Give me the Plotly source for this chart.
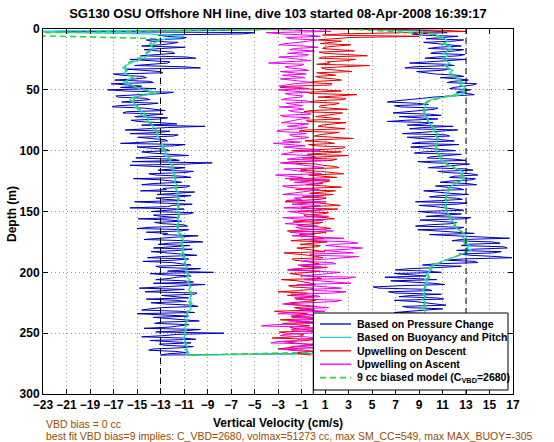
import plotly.graph_objects as go

TITLE = "SG130 OSU Offshore NH line, dive 103 started 08-Apr-2008 16:39:17"
X_TICKS = [-23, -21, -19, -17, -15, -13, -11, -9, -7, -5, -3, -1, 1, 3, 5, 7, 9, 11, 13, 15, 17]
Y_TICKS = [0, 50, 100, 150, 200, 250, 300]

# sampling depths (m)
depth_desc = list(range(0, 269))         # 0..268, 1 m
depth_asc = list(range(0, 267))          # 0..266, 1 m
depth_desc_smooth = list(range(0, 270, 2))  # 0..268, 2 m
depth_asc_smooth = list(range(0, 268, 2))   # 0..266, 2 m
depth_desc_model = list(range(0, 272, 4))   # 0..268
depth_asc_model = list(range(0, 268, 4))    # 0..264

# Descent: vertical velocity from pressure change (cm/s), even metres then odd metres
press_desc_even = [
    -2, -22, -6, -12.5, -11.2, -13.8, -12.1, -14.6, -12.9, -13.3,
    -11.8, -14.7, -10.0, -13.9, -12.4, -15.2, -9.6, -14.1, -12.8, -16.3,
    -14.2, -16.9, -13.6, -15.8, -16.4, -17.5, -11.9, -14.8, -16.6, -13.9,
    -16.3, -14.2, -17.1, -13.5, -15.9, -12.8, -15.2, -13.1, -14.9, -11.6,
    -9.2, -14.8, -12.2, -15.6, -11.9, -13.8, -12.4, -16.4, -11.8, -14.0,
    -12.2, -13.7, -10.6, -15.1, -11.4, -8.6, -15.6, -10.9, -13.2, -11.0,
    -13.4, -10.4, -12.9, -11.2, -14.6, -10.8, -12.5, -10.1, -13.3, -11.5,
    -12.6, -15.2, -10.3, -12.4, -11.0, -13.8, -10.6, -12.9, -14.9, -11.2,
    -12.8, -10.7, -15.0, -11.3, -12.4, -9.8, -13.1, -11.0, -12.2, -10.5,
    -13.6, -11.4, -12.6, -9.9, -14.1, -11.8, -12.0, -10.4, -13.0, -11.2,
    -8.5, -12.7, -11.6, -13.4, -10.2, -9.2, -12.8, -11.0, -14.3, -10.1,
    -12.0, -14.2, -10.8, -12.6, -9.8, -13.9, -11.4, -15.0, -10.6, -12.2,
    -9.7, -13.5, -11.3, -14.4, -10.9, -7.6, -12.7, -11.1, -13.9, -10.4,
    -12.6, -11.2, -14.0, -10.8, -13.0,
]
press_desc_odd = [
    -7, -5, -13.2, -10.8, -14.2, -11.5, -13.0, -10.9, -14.4, -12.0,
    -13.2, -10.8, -15.6, -12.2, -13.8, -11.1, -15.9, -13.0, -17.0, -14.5,
    -15.1, -13.9, -17.2, -14.6, -13.4, -15.9, -12.7, -16.8, -14.3, -15.0,
    -13.2, -16.6, -14.4, -12.6, -16.2, -14.0, -12.4, -15.5, -13.0, -14.6,
    -12.4, -16.0, -13.1, -11.5, -14.9, -12.6, -14.7, -10.9, -15.0, -12.5,
    -14.6, -11.6, -13.8, -12.0, -15.4, -10.8, -13.5, -11.9, -10.2, -14.0,
    -11.1, -15.3, -12.0, -13.6, -10.5, -12.8, -14.7, -11.6, -10.4, -13.4,
    -10.9, -13.1, -12.0, -15.6, -12.4, -10.2, -13.6, -11.4, -12.2, -13.5,
    -11.0, -13.9, -10.6, -14.2, -12.8, -11.6, -14.4, -9.4, -13.2, -12.0,
    -10.3, -13.8, -11.4, -12.9, -10.6, -14.5, -11.2, -13.4, -9.6, -12.4,
    -13.9, -10.4, -12.2, -11.0, -13.6, -10.8, -14.8, -12.4, -9.9, -12.9,
    -10.6, -11.6, -13.8, -10.4, -12.8, -14.6, -10.1, -12.5, -13.6, -11.1,
    -13.0, -10.6, -12.2, -9.6, -13.4, -11.6, -14.6, -10.0, -12.0, -13.1,
    -10.2, -13.6, -11.7, -12.4,
]
# Descent: from buoyancy and pitch (2 m)
buoy_desc = [
    -2, -27, -14, -11, -12.5, -13.2, -13.6, -13.8, -13.5, -13.9,
    -14.2, -14.0, -14.5, -15.0, -15.6, -16.0, -16.2, -15.8, -16.1, -15.7,
    -15.3, -15.8, -16.2, -15.5, -15.1, -14.6, -13.2, -14.0, -15.3, -15.6,
    -15.4, -15.1, -15.2, -14.8, -14.6, -14.7, -14.3, -14.0, -14.2, -13.8,
    -13.6, -13.7, -13.4, -13.2, -13.3, -13.0, -13.1, -12.9, -12.8, -12.9,
    -12.7, -12.5, -12.6, -12.3, -12.2, -12.3, -12.0, -12.1, -11.9, -12.0,
    -11.8, -11.9, -11.7, -11.8, -11.6, -11.8, -11.7, -11.5, -11.7, -11.6,
    -11.4, -11.6, -11.5, -11.4, -11.6, -11.5, -11.3, -11.5, -11.6, -11.4,
    -11.5, -11.7, -11.5, -11.6, -11.4, -11.5, -11.2, -11.0, -11.3, -11.1,
    -11.0, -11.2, -11.1, -11.3, -11.0, -10.8, -11.0, -10.9, -10.7, -10.9,
    -10.8, -10.6, -10.8, -10.5, -10.7, -10.6, -10.4, -10.6, -10.5, -10.3,
    -10.5, -10.4, -10.6, -10.3, -10.5, -10.4, -10.6, -10.8, -10.6, -10.9,
    -10.7, -10.9, -10.8, -11.0, -10.8, -11.0, -10.9, -11.1, -10.9, -11.0,
    -10.8, -10.7, -10.9, -10.6, -10.8,
]
# Descent: 9 cc biased model (4 m)
model_desc = [
    -1, -30, -13.0, -13.9, -13.7, -14.3, -14.8, -15.8, -16.0, -15.9,
    -15.4, -15.9, -15.0, -13.6, -15.2, -15.3, -15.0, -14.5, -14.2, -14.0,
    -13.6, -13.3, -13.1, -13.0, -12.8, -12.6, -12.4, -12.1, -12.0, -11.9,
    -11.8, -11.7, -11.6, -11.6, -11.6, -11.5, -11.5, -11.5, -11.4, -11.5,
    -11.5, -11.5, -11.3, -11.1, -11.2, -11.1, -11.1, -10.9, -10.9, -10.8,
    -10.7, -10.6, -10.6, -10.5, -10.4, -10.4, -10.4, -10.6, -10.7, -10.8,
    -10.8, -10.9, -10.9, -10.9, -10.9, -10.8, -10.7, -10.7,
]
# Ascent (listed from surface downward)
press_asc_even = [
    6, 10.8, 8.4, 12.3, 9.6, 11.9, 10.2, 12.6, 9.8, 12.1,
    10.0, 12.4, 9.5, 11.8, 8.2, 12.0, 7.8, 10.9, 9.3, 12.3,
    10.8, 13.2, 11.4, 13.6, 12.0, 13.4, 12.2, 13.7, 10.2, 8.5,
    6.3, 9.8, 7.4, 10.3, 8.1, 9.9, 7.3, 10.6, 6.3, 9.5,
    11.9, 8.2, 10.8, 7.6, 11.6, 9.1, 12.0, 8.4, 11.2, 9.6,
    12.1, 8.6, 11.4, 9.7, 13.0, 10.2, 12.4, 9.8, 13.6, 11.4,
    14.0, 11.6, 13.5, 10.8, 13.9, 11.3, 12.8, 10.1, 13.2, 9.9,
    12.7, 8.7, 12.2, 10.4, 11.9, 8.9, 12.6, 9.6, 12.9, 10.3,
    11.8, 8.7, 12.4, 10.6, 13.7, 12.0, 16.7, 11.8, 15.9, 12.6,
    16.5, 12.2, 15.3, 13.4, 16.9, 11.2, 14.0, 9.3, 10.8, 7.0,
    10.9, 8.3, 6.1, 10.5, 7.9, 11.2, 5.1, 9.8, 6.4, 10.9,
    7.3, 11.1, 8.6, 10.4, 7.6, 11.0, 8.2, 9.9, 7.4, 10.8,
    8.1, 11.2, 7.7, 10.5, 8.8, 11.4, 7.9, 10.3, 8.5, 11.0,
    8.0, 10.6, 8.3, 8.6,
]
press_asc_odd = [
    9.0, 11.4, 9.2, 11.0, 12.8, 9.4, 11.5, 10.6, 12.8, 10.4,
    12.9, 10.6, 13.0, 9.9, 11.3, 8.6, 11.6, 8.8, 10.4, 12.8,
    12.4, 11.9, 13.9, 12.8, 11.6, 12.6, 13.2, 11.8, 9.3, 7.1,
    8.8, 6.9, 10.6, 8.6, 6.8, 10.9, 8.9, 7.9, 10.2, 8.0,
    9.3, 12.3, 9.0, 11.3, 8.0, 10.9, 9.2, 12.4, 8.3, 11.1,
    9.4, 12.6, 10.0, 12.0, 8.9, 13.3, 11.0, 12.9, 10.6, 13.4,
    12.0, 13.8, 11.6, 13.1, 10.4, 12.4, 9.4, 11.6, 10.8, 12.2,
    10.9, 13.1, 9.0, 11.4, 12.8, 10.0, 11.2, 13.4, 9.1, 12.2,
    9.8, 12.8, 8.9, 11.6, 9.9, 14.6, 12.6, 15.2, 13.1, 16.2,
    13.6, 16.0, 12.4, 15.6, 12.8, 13.8, 10.4, 12.6, 8.2, 9.6,
    6.9, 9.6, 8.8, 6.6, 10.2, 7.4, 5.6, 10.1, 7.0, 8.4,
    10.5, 6.9, 9.7, 11.3, 8.1, 10.0, 6.9, 10.7, 8.9, 7.8,
    10.6, 8.4, 9.9, 7.5, 10.8, 8.9, 11.1, 7.6, 9.8, 10.4,
    7.8, 9.9, 8.8,
]
buoy_asc = [
    4, 9.5, 10.2, 10.8, 11.2, 11.5, 11.0, 11.6, 11.9, 11.4,
    11.1, 11.5, 11.0, 11.3, 11.6, 11.2, 11.5, 11.9, 11.6, 11.8,
    12.2, 12.5, 12.7, 12.5, 12.9, 12.7, 13.0, 12.6, 11.2, 10.0,
    9.6, 9.4, 9.6, 9.3, 9.5, 9.4, 9.6, 9.8, 9.7, 10.0,
    10.1, 10.4, 10.2, 10.6, 10.4, 10.7, 10.5, 10.6, 10.4, 10.5,
    10.4, 10.6, 10.8, 10.7, 11.0, 11.1, 11.6, 12.1, 12.5, 12.8,
    12.6, 12.9, 12.7, 12.4, 11.9, 11.6, 11.4, 11.5, 11.3, 11.4,
    11.2, 11.4, 11.3, 11.1, 11.4, 11.3, 11.5, 11.7, 11.6, 11.9,
    12.1, 11.9, 12.3, 12.6, 12.9, 13.0, 12.7, 13.2, 12.8, 13.4,
    13.0, 13.5, 12.9, 12.4, 11.8, 11.3, 10.7, 10.2, 9.9, 10.1,
    9.8, 9.6, 9.9, 9.5, 9.7, 9.4, 9.6, 9.3, 9.5, 9.4,
    9.6, 9.3, 9.5, 9.4, 9.6, 9.3, 9.5, 9.4, 9.6, 9.5,
    9.3, 9.5, 9.4, 9.6, 9.4, 9.5, 9.3, 9.6, 9.4, 9.5,
    9.3, 9.2, 9.0, 8.5,
]
model_asc = [
    3, 10.0, 11.0, 11.2, 11.7, 11.2, 11.1, 11.5, 11.4, 11.7,
    12.1, 12.6, 12.8, 12.9, 11.0, 9.7, 9.5, 9.4, 9.6, 9.8,
    10.1, 10.3, 10.5, 10.6, 10.5, 10.5, 10.7, 11.0, 11.5, 12.4,
    12.7, 12.6, 11.9, 11.5, 11.3, 11.3, 11.3, 11.3, 11.5, 11.7,
    12.0, 12.2, 12.8, 12.8, 12.9, 13.1, 12.9, 11.9, 10.8, 10.0,
    9.8, 9.8, 9.6, 9.5, 9.4, 9.5, 9.4, 9.5, 9.4, 9.5,
    9.4, 9.4, 9.4, 9.4, 9.4, 9.3, 9.0,
]
# Upwelling (cm/s), even metres then odd metres
upwell_desc_even = [
    0.5, 13, 2.5, 9.0, 1.2, 2.4, 0.6, 2.0, 0.8, 3.5,
    1.0, 4.6, 0.5, 2.8, 1.4, 4.8, 0.7, 2.2, 0.3, 1.9,
    0.6, 2.4, -0.4, 1.5, -2.8, 0.9, -0.6, 3.7, 0.4, 2.6,
    -0.3, 1.8, 0.5, 2.9, -0.8, 1.6, 0.2, 2.3, -0.5, 1.9,
    0.4, 2.7, -1.2, 1.3, 0.1, 3.4, -0.7, 1.8, 0.3, 2.5,
    -1.8, 1.2, 3.0, -0.9, 1.6, -2.6, 0.8, 2.2, -1.1, 1.4,
    -0.4, 2.0, -2.0, 0.9, -0.6, 2.4, -1.5, 0.5, 1.7, -0.9,
    0.6, -2.4, 1.3, -0.3, 2.1, -1.3, 0.7, -0.6, 1.8, -1.7,
    0.2, -0.8, 1.5, -2.2, 0.4, -1.0, 0.9, -1.9, -0.2, 0.6,
    -1.4, 0.3, -2.5, -0.4, 0.8, -1.6, 0.1, -0.9, 1.2, -2.1,
    -0.3, -1.2, 0.4, -2.7, -0.6, 0.2, -1.8, -0.2, -3.0, -0.8,
    0.1, -1.5, -0.4, -2.4, 0.3, -1.1, -3.3, -0.5, -1.9, 0.2,
    -1.2, -2.6, -0.3, -1.7, 0.4, -2.2, -0.9, -3.5, -0.4, -1.4,
    0.2, -2.0, -0.7, -1.5, -0.2,
]
upwell_desc_odd = [
    11, 6.0, 0.8, 3.1, 0.4, 1.7, 3.2, 0.9, 2.6, 0.5,
    2.9, 0.8, 3.6, 1.2, 0.3, 2.6, 1.1, 3.3, 1.0, 0.2,
    1.8, 0.3, 1.6, -1.9, -0.9, 2.4, -0.2, 1.6, 2.8, 0.3,
    2.2, 0.6, 1.3, -0.2, 2.5, 0.9, 1.4, -0.6, 2.8, 0.7,
    1.6, -0.6, 2.2, 0.5, 2.0, 0.4, 1.2, -0.4, 2.7, 0.9,
    2.4, -0.5, 1.1, 2.0, -1.6, 0.3, 1.9, -0.4, 0.6, 2.6,
    0.7, -1.2, 1.4, 0.2, 1.0, -0.7, 1.9, -0.3, 0.2, 1.1,
    -1.3, 0.5, 2.3, -1.0, 0.4, 1.3, -0.8, 1.0, -0.4, 0.8,
    -1.4, 0.9, -0.5, 1.1, -1.2, 0.5, -0.6, 1.2, -1.1, 0.3,
    -0.6, 1.0, -1.1, 0.3, -1.8, -0.6, 0.5, -1.0, -0.3, 0.6,
    -2.0, -0.5, 0.7, -1.3, -0.2, -2.1, 0.0, -1.2, -0.5, -2.2,
    -0.6, 0.2, -2.0, -0.9, -1.6, 0.1, -2.3, -0.7, -0.2, -2.8,
    0.0, -1.0, -2.0, -0.6, -2.9, -0.8, -1.6, 0.1, -2.5, -0.6,
    -1.3, -3.0, 0.1, -1.1,
]
upwell_asc_even = [
    -4.5, 1.5, -2.8, 0.6, -1.9, -0.3, -2.4, -0.8, -1.6, 0.1,
    -2.2, -0.6, -1.8, -0.2, -3.8, -1.0, -2.1, -0.4, -1.5, -2.6,
    -0.7, -1.9, -0.1, -2.3, -1.2, -3.0, -0.5, -2.0, -1.1, -2.7,
    -0.3, -1.6, -2.9, -0.8, -1.7, -0.2, -2.5, -1.0, -1.9, -0.4,
    -2.2, -1.3, -3.1, -0.6, -1.8, -0.9, -2.6, -3.4, -0.7, -1.5,
    0.6, -2.3, -0.4, -1.4, 1.2, -2.8, -0.6, 0.9, -1.9, -0.2,
    -3.2, -0.9, 1.4, -1.6, -0.3, -2.2, 0.5, -1.2, -2.6, 0.2,
    -1.0, 1.1, -1.8, -0.4, 0.8, -2.1, -0.7, 1.3, -1.5, -0.2,
    -2.4, 0.4, -1.1, 1.7, -0.6, -1.8, 2.6, 0.3, 3.8, 1.1,
    4.2, 0.9, 3.4, 0.2, 2.7, -0.5, 1.6, -1.3, 0.8, -2.2,
    2.3, 0.1, 3.6, -0.8, 2.0, -1.4, 1.2, -0.4, 2.8, -1.9,
    0.6, -0.9, 1.9, -2.6, 0.3, -1.2, 1.0, -3.0, -0.5, 0.9,
    -2.1, -0.2, -4.4, 0.4, -1.6, -0.3, -2.8, 0.2, -1.4, -3.6,
    -0.6, 0.5, -2.0, -0.8,
]
upwell_asc_odd = [
    -1.5, -4.0, -0.5, -2.3, 0.3, -1.2, -2.9, 0.4, -2.0, -1.1,
    -0.4, -2.9, -1.2, -2.5, -0.8, -2.4, -0.9, -2.8, -0.6, -1.4,
    -2.8, -0.5, -1.6, -2.9, -0.4, -1.7, -2.4, -0.9, -2.2, -0.6,
    -2.3, -0.9, -1.3, -2.1, -0.5, -2.8, -0.3, -1.6, -2.7, -1.2,
    -0.5, -2.7, -1.5, -2.0, -0.4, -2.2, -1.1, -1.9, -2.5, 0.3,
    -1.6, -2.7, 0.2, -2.2, -0.7, -1.5, 0.4, -2.5, -1.1, 0.7,
    -1.6, -2.4, -0.2, 0.8, -2.6, -1.0, -0.2, -1.9, 0.9, -1.6,
    -2.3, -0.3, 0.6, -2.5, 0.2, -1.3, -0.1, -2.6, 0.9, -1.2,
    -0.6, -1.5, 0.8, -2.0, 0.1, 1.2, -0.6, 3.1, 1.9, 2.4,
    3.0, 2.1, -0.3, 3.9, 1.3, -0.9, 1.9, 0.4, -1.6, 0.7,
    1.4, -1.1, 2.9, 0.6, 3.2, -0.3, 2.4, 0.4, 1.7, 0.2,
    -1.6, 2.4, -0.2, -1.4, 1.3, -0.6, -2.0, 0.6, -1.8, -0.9,
    0.7, -3.2, -0.8, -1.9, 0.3, -2.4, -0.6, -1.2, -3.0, 0.1,
    -1.9, -2.7, -0.4,
]

LEGEND_NAMES = ["Based on Pressure Change", "Based on Buoyancy and Pitch",
                "Upwelling on Descent", "Upwelling on Ascent",
                "9 cc biased model (C<sub>VBD</sub>=2680)"]


def interleave(even_v, odd_v):
    out = []
    for i, v in enumerate(even_v):
        out.append(v)
        if i < len(odd_v):
            out.append(odd_v[i])
    return out


press_desc = interleave(press_desc_even, press_desc_odd)
press_asc = interleave(press_asc_even, press_asc_odd)
upwell_desc = interleave(upwell_desc_even, upwell_desc_odd)
upwell_asc = interleave(upwell_asc_even, upwell_asc_odd)

assert len(press_desc) == len(depth_desc) == len(upwell_desc)
assert len(press_asc) == len(depth_asc) == len(upwell_asc)
assert len(buoy_desc) == len(depth_desc_smooth)
assert len(buoy_asc) == len(depth_asc_smooth)
assert len(model_desc) == len(depth_desc_model)
assert len(model_asc) == len(depth_asc_model)

FONT = "Liberation Sans, Arial, Helvetica, sans-serif"
BROWN = "rgb(153,76,0)"
COLORS = ["rgb(0,0,190)", "rgb(30,215,215)", "rgb(230,0,0)", "rgb(235,0,235)", "rgb(60,205,60)"]
WIDTHS = [1, 1.3, 1, 1, 1.6]
DASHES = ["solid", "solid", "solid", "solid", "6px,4px"]


def dive(desc_v, desc_d, asc_v, asc_d):
    # descent then ascent (ascent runs from the bottom back to the surface)
    return desc_v + asc_v[::-1], desc_d + asc_d[::-1]


fig = go.Figure()
series = [
    dive(press_desc, depth_desc, press_asc, depth_asc),
    dive(buoy_desc, depth_desc_smooth, buoy_asc, depth_asc_smooth),
    (upwell_desc, depth_desc),
    (upwell_asc, depth_asc),
    dive(model_desc, depth_desc_model, model_asc, depth_asc_model),
]
for (xs, ys), name, c, w, d in zip(series, LEGEND_NAMES, COLORS, WIDTHS, DASHES):
    fig.add_trace(go.Scatter(x=xs, y=ys, mode="lines", name=name,
                             line=dict(color=c, width=w, dash=d), showlegend=False))

# reference lines
for xv, dash in [(-13, "6px,4px"), (13, "6px,4px"), (0, "solid")]:
    fig.add_shape(type="line", xref="x", yref="paper", x0=xv, x1=xv, y0=0, y1=1,
                  line=dict(color="black", width=1, dash=dash), layer="above")

# legend box (drawn like the original: inside the axes, lower right)
PLOT_L, PLOT_R, PLOT_T, PLOT_B = 43, 513, 29, 394
def px_x(p):
    return (p - PLOT_L) / (PLOT_R - PLOT_L)
def px_y(p):
    return (PLOT_B - p) / (PLOT_B - PLOT_T)

fig.add_shape(type="rect", xref="paper", yref="paper",
              x0=px_x(313.5), x1=px_x(508), y0=px_y(390), y1=px_y(313),
              fillcolor="white", line=dict(color="black", width=1), layer="above")
for i, (name, c, w, d) in enumerate(zip(LEGEND_NAMES, COLORS, WIDTHS, DASHES)):
    yy = 324 + 13.4 * i
    fig.add_shape(type="line", xref="paper", yref="paper",
                  x0=px_x(320), x1=px_x(351), y0=px_y(yy), y1=px_y(yy),
                  line=dict(color=c, width=max(w, 1.3), dash=d), layer="above")
    fig.add_annotation(text=name, xref="paper", yref="paper", x=px_x(355), y=px_y(yy),
                       xanchor="left", yanchor="middle", showarrow=False,
                       font=dict(family=FONT, size=10.5, color="black", weight="bold"))

axis_common = dict(
    showline=True, linecolor="black", linewidth=1, mirror="ticks",
    ticks="inside", ticklen=5, tickcolor="black", tickwidth=1,
    showgrid=True, gridcolor="rgb(150,150,150)", griddash="1px,3px", gridwidth=1,
    zeroline=False, automargin=False,
    tickfont=dict(family=FONT, size=12, color="black", weight="bold"),
)
fig.update_xaxes(range=[-23, 17], tickmode="array", tickvals=X_TICKS,
                 ticktext=[("\u2212" + str(-t)) if t < 0 else str(t) for t in X_TICKS],
                 **axis_common)
fig.update_yaxes(range=[300, 0], tickmode="array", tickvals=Y_TICKS, **axis_common)

fig.update_layout(
    width=554, height=442,
    margin=dict(l=PLOT_L, r=554 - PLOT_R, t=PLOT_T, b=442 - PLOT_B),
    paper_bgcolor="white", plot_bgcolor="white",
    title=dict(text=TITLE, x=0.5, xref="paper", xanchor="center",
               y=1 - 13 / 442, yref="container", yanchor="middle",
               font=dict(family=FONT, size=13, color="black", weight="bold")),
    showlegend=False,
)

# axis titles
fig.add_annotation(text="Vertical Velocity (cm/s)", xref="paper", yref="paper",
                   x=0.5, y=px_y(423), xanchor="center", yanchor="middle", showarrow=False,
                   font=dict(family=FONT, size=12, color="black", weight="bold"))
fig.add_annotation(text="Depth (m)", xref="paper", yref="paper", textangle=-90,
                   x=px_x(12), y=px_y(214), xanchor="center", yanchor="middle", showarrow=False,
                   font=dict(family=FONT, size=12, color="black", weight="bold"))

# notes under the axes
fig.add_annotation(text="VBD bias = 0 cc", xref="paper", yref="paper", x=px_x(44), y=px_y(424),
                   xanchor="left", yanchor="middle", showarrow=False,
                   font=dict(family=FONT, size=10.5, color=BROWN))
fig.add_annotation(text="best fit VBD bias=9 implies: C_VBD=2680, volmax=51273 cc, max SM_CC=549, max MAX_BUOY=-305",
                   xref="paper", yref="paper", x=px_x(44), y=px_y(436),
                   xanchor="left", yanchor="middle", showarrow=False,
                   font=dict(family=FONT, size=10.5, color=BROWN))

fig.write_html("out.html", config={"displayModeBar": False},
               post_script="document.body.style.margin='0';document.body.style.padding='0';")
